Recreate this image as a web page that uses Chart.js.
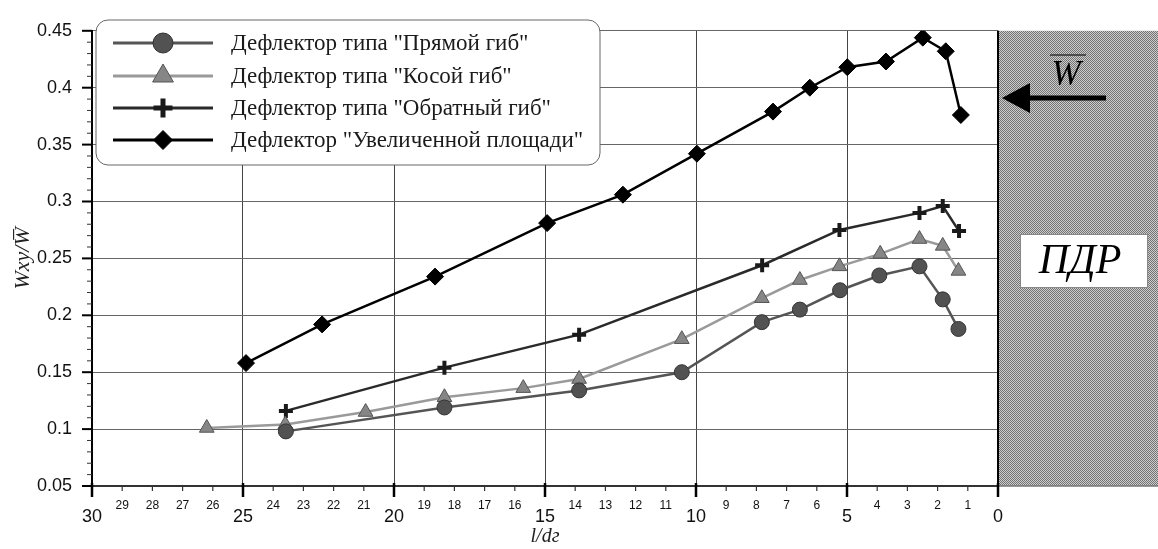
<!DOCTYPE html>
<html><head><meta charset="utf-8">
<script src="https://cdn.jsdelivr.net/npm/chart.js@4/dist/chart.umd.min.js"></script>
<style>html,body{margin:0;padding:0;background:#fff;overflow:hidden}#wrap{width:1158px;height:549px;position:relative}</style>
</head><body><div id="wrap"><canvas id="c"></canvas></div>
<script>
const seriesNames = ['Дефлектор типа "Прямой гиб"', 'Дефлектор типа "Косой гиб"', 'Дефлектор типа "Обратный гиб"', 'Дефлектор "Увеличенной площади"'];
const straightX = [23.58, 18.33, 13.87, 10.47, 7.82, 6.56, 5.23, 3.93, 2.6, 1.83, 1.31];
const straightY = [0.098, 0.119, 0.134, 0.150, 0.194, 0.205, 0.222, 0.235, 0.243, 0.214, 0.188];
const obliqueX = [26.2, 23.6, 20.94, 18.33, 15.72, 13.87, 10.47, 7.82, 6.56, 5.25, 3.9, 2.6, 1.83, 1.31];
const obliqueY = [0.101, 0.104, 0.115, 0.128, 0.136, 0.144, 0.179, 0.215, 0.231, 0.243, 0.254, 0.267, 0.261, 0.239];
const reverseX = [23.58, 18.33, 13.87, 7.81, 5.25, 2.6, 1.83, 1.29];
const reverseY = [0.116, 0.154, 0.183, 0.244, 0.275, 0.290, 0.296, 0.274];
const enlargedX = [24.9, 22.38, 18.64, 14.93, 12.42, 9.97, 7.45, 6.23, 4.99, 3.71, 2.49, 1.73, 1.23];
const enlargedY = [0.158, 0.192, 0.234, 0.281, 0.306, 0.342, 0.379, 0.400, 0.418, 0.423, 0.444, 0.432, 0.376];
const xTickValues = [30, 29, 28, 27, 26, 25, 24, 23, 22, 21, 20, 19, 18, 17, 16, 15, 14, 13, 12, 11, 10, 9, 8, 7, 6, 5, 4, 3, 2, 1, 0];
const xMajorTicks = [30, 25, 20, 15, 10, 5, 0];
const yTickLabels = ['0.05', '0.1', '0.15', '0.2', '0.25', '0.3', '0.35', '0.4', '0.45'];
const xTitle = 'l/dг';
const yTitle = 'Wxy/W\u0305';
const panelLabel = 'ПДР';
const flowLabel = 'W';

const SERIF = '"Liberation Serif", "Times New Roman", serif';
const SANS = '"Liberation Sans", Arial, sans-serif';
const zip = (xs, ys) => xs.map((x, i) => ({x: x, y: ys[i]}));
const isMajorX = v => xMajorTicks.includes(Math.round(v));
const yLabelFor = v => yTickLabels.find(l => Math.abs(Number(l) - v) < 1e-6);

const styles = [
  {line: '#555555', fill: '#525252', border: '#333333', shape: 'circle', r: 7.5, bw: 1, lr: 10, lbw: 1},
  {line: '#9a9a9a', fill: '#868686', border: '#555555', shape: 'triangle', r: 8.5, bw: 1, lr: 12, lbw: 1},
  {line: '#2a2a2a', fill: '#1a1a1a', border: '#1a1a1a', shape: 'cross', r: 7, bw: 4, lr: 9.5, lbw: 5},
  {line: '#000000', fill: '#000000', border: '#000000', shape: 'rectRot', r: 8.5, bw: 1, lr: 9.5, lbw: 1}
];
const seriesData = [zip(straightX, straightY), zip(obliqueX, obliqueY), zip(reverseX, reverseY), zip(enlargedX, enlargedY)];

const datasets = seriesData.map((d, i) => ({
  label: seriesNames[i], data: d,
  borderColor: styles[i].line, borderWidth: 2.5, tension: 0,
  pointStyle: styles[i].shape, pointRadius: styles[i].r, pointHoverRadius: styles[i].r,
  pointBackgroundColor: styles[i].fill, pointBorderColor: styles[i].border, pointBorderWidth: styles[i].bw,
  showLine: true, fill: false
}));

function marker(ctx, shape, x, y, r, fill, stroke, bw) {
  ctx.save();
  ctx.fillStyle = fill; ctx.strokeStyle = stroke; ctx.lineWidth = bw;
  ctx.beginPath();
  if (shape === 'circle') { ctx.arc(x, y, r, 0, Math.PI * 2); ctx.fill(); ctx.stroke(); }
  else if (shape === 'triangle') {
    ctx.moveTo(x, y - r); ctx.lineTo(x + r * 0.866, y + r * 0.5); ctx.lineTo(x - r * 0.866, y + r * 0.5); ctx.closePath(); ctx.fill(); ctx.stroke();
  } else if (shape === 'cross') {
    ctx.moveTo(x - r, y); ctx.lineTo(x + r, y); ctx.moveTo(x, y - r); ctx.lineTo(x, y + r); ctx.stroke();
  } else {
    ctx.moveTo(x, y - r); ctx.lineTo(x + r, y); ctx.lineTo(x, y + r); ctx.lineTo(x - r, y); ctx.closePath(); ctx.fill(); ctx.stroke();
  }
  ctx.restore();
}

const decor = {
  id: 'decor',
  afterDraw(chart) {
    const ctx = chart.ctx, ca = chart.chartArea, xs = chart.scales.x, ys = chart.scales.y;
    ctx.save();
    const pc = document.createElement('canvas'); pc.width = 2; pc.height = 2;
    const p = pc.getContext('2d');
    p.fillStyle = '#cccccc'; p.fillRect(0, 0, 2, 2);
    p.fillStyle = '#747474'; p.fillRect(0, 0, 1, 1); p.fillRect(1, 1, 1, 1);
    ctx.fillStyle = ctx.createPattern(pc, 'repeat');
    ctx.fillRect(ca.right, ca.top, chart.width - ca.right, ca.bottom - ca.top);
    ctx.strokeStyle = '#777'; ctx.lineWidth = 1.5;
    ctx.beginPath(); ctx.moveTo(ca.right, ca.bottom); ctx.lineTo(chart.width, ca.bottom); ctx.stroke();
    ctx.strokeStyle = '#000'; ctx.lineWidth = 2;
    ctx.beginPath(); ctx.moveTo(ca.right, ca.top); ctx.lineTo(ca.right, ca.bottom); ctx.stroke();
    ctx.strokeStyle = '#000'; ctx.lineWidth = 5;
    ctx.beginPath(); ctx.moveTo(1022, 98); ctx.lineTo(1106, 98); ctx.stroke();
    ctx.fillStyle = '#000';
    ctx.beginPath(); ctx.moveTo(1002, 98); ctx.lineTo(1030, 83); ctx.lineTo(1030, 113); ctx.closePath(); ctx.fill();
    ctx.font = 'italic 35px ' + SERIF; ctx.textAlign = 'center'; ctx.textBaseline = 'alphabetic';
    ctx.fillText(flowLabel, 1066, 85);
    ctx.lineWidth = 1.5; ctx.strokeStyle = '#333';
    ctx.beginPath(); ctx.moveTo(1050, 55); ctx.lineTo(1086, 55); ctx.stroke();
    ctx.fillStyle = '#fff'; ctx.fillRect(1020, 234, 128, 54);
    ctx.strokeStyle = '#888'; ctx.lineWidth = 1; ctx.strokeRect(1020.5, 234.5, 127, 53);
    ctx.fillStyle = '#000'; ctx.font = 'italic 42px ' + SERIF;
    ctx.fillText(panelLabel, 1080, 273);
    xs.ticks.forEach(t => {
      const px = xs.getPixelForValue(t.value);
      const maj = isMajorX(t.value);
      ctx.strokeStyle = maj ? '#000' : '#333'; ctx.lineWidth = maj ? 2.5 : 1.2;
      ctx.beginPath(); ctx.moveTo(px, ca.bottom - (maj ? 3 : 0)); ctx.lineTo(px, ca.bottom + (maj ? 11 : 5)); ctx.stroke();
    });
    ys.ticks.forEach(t => {
      const py = ys.getPixelForValue(t.value);
      const maj = !!yLabelFor(t.value);
      ctx.strokeStyle = maj ? '#000' : '#333'; ctx.lineWidth = maj ? 2 : 1;
      ctx.beginPath(); ctx.moveTo(ca.left - (maj ? 10 : 5), py); ctx.lineTo(ca.left, py); ctx.stroke();
    });
    const lx = 96, ly = 20, lw = 504, lh = 145, rr = 12;
    ctx.beginPath();
    ctx.moveTo(lx + rr, ly); ctx.lineTo(lx + lw - rr, ly); ctx.arcTo(lx + lw, ly, lx + lw, ly + rr, rr);
    ctx.lineTo(lx + lw, ly + lh - rr); ctx.arcTo(lx + lw, ly + lh, lx + lw - rr, ly + lh, rr);
    ctx.lineTo(lx + rr, ly + lh); ctx.arcTo(lx, ly + lh, lx, ly + lh - rr, rr);
    ctx.lineTo(lx, ly + rr); ctx.arcTo(lx, ly, lx + rr, ly, rr); ctx.closePath();
    ctx.fillStyle = '#fff'; ctx.fill();
    ctx.strokeStyle = '#666'; ctx.lineWidth = 1; ctx.stroke();
    const rows = [43, 76, 108, 140];
    chart.data.datasets.forEach((ds, i) => {
      const y = rows[i], s = styles[i];
      ctx.strokeStyle = s.line; ctx.lineWidth = 3;
      ctx.beginPath(); ctx.moveTo(113, y); ctx.lineTo(213, y); ctx.stroke();
      marker(ctx, s.shape, 163, y, s.lr, s.fill, s.border, s.lbw);
      ctx.fillStyle = '#1a1a1a'; ctx.font = '23px ' + SERIF; ctx.textAlign = 'left'; ctx.textBaseline = 'middle';
      ctx.fillText(ds.label, 231, y + 1);
    });
    ctx.restore();
  }
};

new Chart(document.getElementById('c'), {
  type: 'scatter',
  data: {datasets: datasets},
  options: {
    responsive: true, maintainAspectRatio: false, animation: false,
    layout: {padding: {top: 16, right: 160, left: 0, bottom: 0}},
    plugins: {legend: {display: false}, tooltip: {enabled: false}},
    scales: {
      x: {
        type: 'linear', reverse: true, min: 0, max: 30,
        afterFit: s => { s.height = 63; },
        afterBuildTicks: s => { s.ticks = xTickValues.map(v => ({value: v})); },
        grid: {drawTicks: false, lineWidth: 1, color: c => (c.tick && isMajorX(c.tick.value) && c.tick.value !== 0 && c.tick.value !== 30) ? '#444444' : 'rgba(0,0,0,0)'},
        border: {display: true, color: '#333', width: 2},
        ticks: {
          autoSkip: false, maxRotation: 0, padding: 14, color: '#111',
          callback: v => String(v),
          font: c => (c.tick && isMajorX(c.tick.value)) ? {family: SANS, size: 18, lineHeight: 1.85} : {family: SANS, size: 12, lineHeight: 1.0}
        },
        title: {display: true, text: xTitle, color: '#222', font: {family: SERIF, size: 20, style: 'italic'}, padding: {top: 0, bottom: 0}}
      },
      y: {
        type: 'linear', min: 0.05, max: 0.45,
        afterFit: s => { s.width = 92; },
        afterBuildTicks: s => { const t = []; for (let i = 5; i <= 45; i++) t.push({value: i / 100}); s.ticks = t; },
        grid: {drawTicks: false, lineWidth: 1, color: c => (c.tick && yLabelFor(c.tick.value)) ? '#666666' : 'rgba(0,0,0,0)'},
        border: {display: true, color: '#000', width: 2},
        ticks: {
          autoSkip: false, padding: 20, color: '#111', font: {family: SANS, size: 18},
          callback: v => yLabelFor(v) || ''
        },
        title: {display: true, text: yTitle, color: '#222', font: {family: SERIF, size: 22, style: 'italic'}, padding: {top: 10, bottom: 0}}
      }
    }
  },
  plugins: [decor]
});
</script>
</body></html>
